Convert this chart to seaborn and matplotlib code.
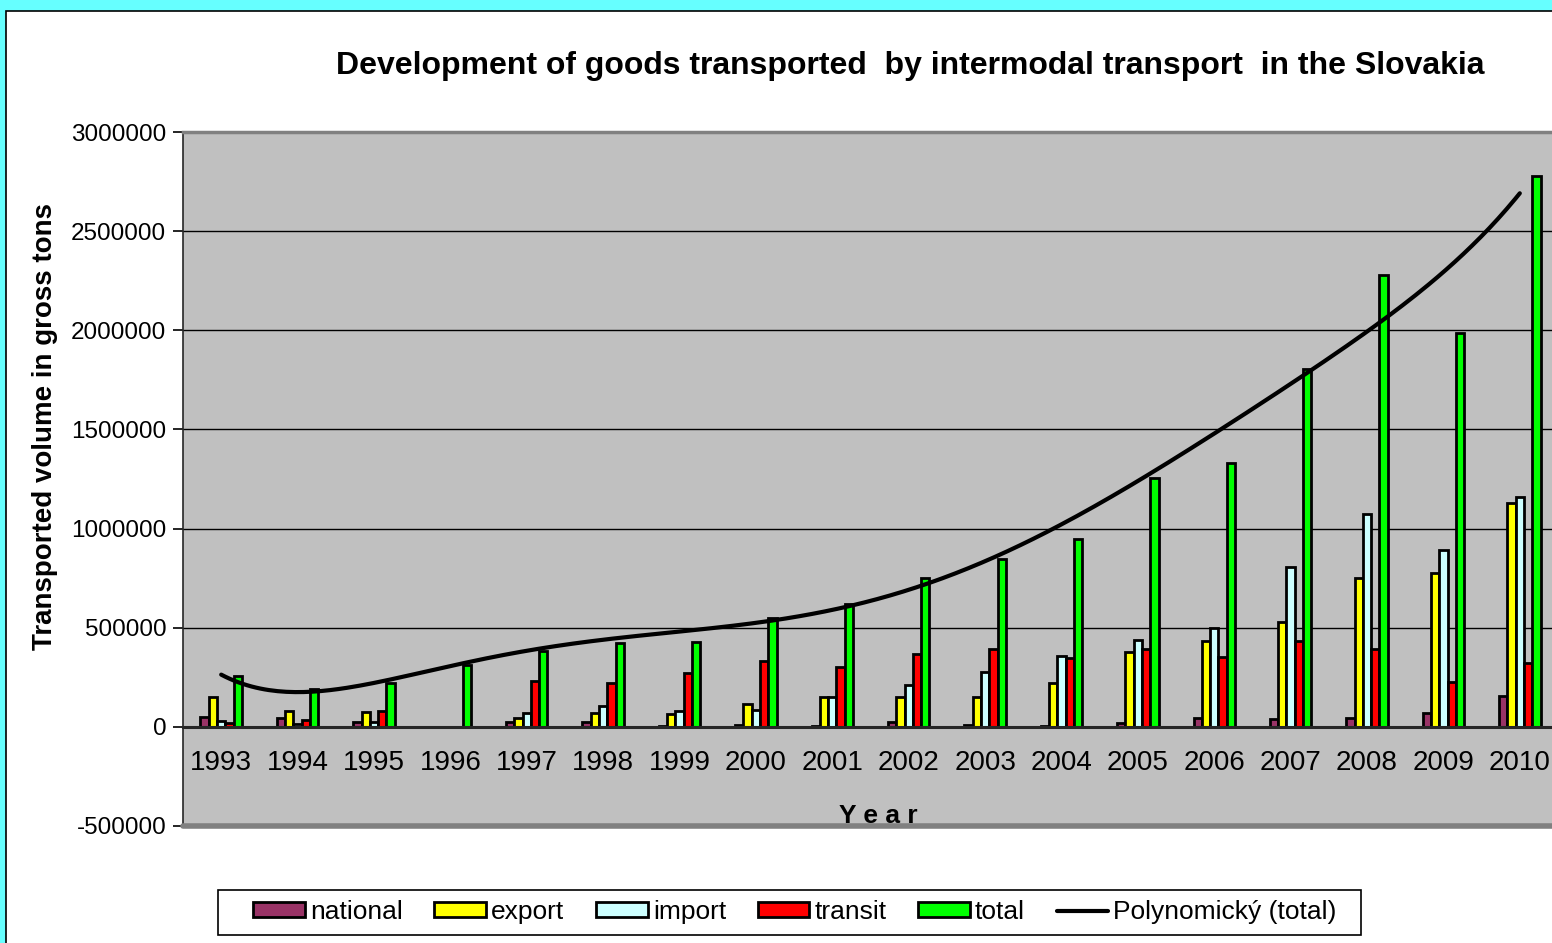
import numpy as np
import pandas as pd
import matplotlib
matplotlib.use('Agg')
import matplotlib.pyplot as plt
from matplotlib.patches import Rectangle
from matplotlib.ticker import MultipleLocator
import seaborn as sns

# values (gross tons)
years = ['1993', '1994', '1995', '1996', '1997', '1998', '1999', '2000', '2001',
         '2002', '2003', '2004', '2005', '2006', '2007', '2008', '2009', '2010']
national = [50000, 45000, 22000, np.nan, 22000, 25000, 2000, 8000, 4000,
            27000, 10000, 5000, 19000, 47000, 42000, 47000, 69000, 158000]
export = [150000, 80000, 75000, np.nan, 45000, 70000, 65000, 115000, 153000,
          153000, 153000, 219000, 380000, 434000, 527000, 749000, 778000, 1128000]
imports = [30000, 15000, 22000, np.nan, 68000, 105000, 80000, 85000, 153000,
           212000, 278000, 355000, 440000, 497000, 805000, 1071000, 894000, 1159000]
transit = [20000, 33000, 80000, np.nan, 233000, 223000, 270000, 334000, 304000,
           368000, 392000, 347000, 392000, 350000, 431000, 392000, 228000, 321000]
total = [255000, 190000, 220000, 313000, 385000, 425000, 430000, 548000, 618000,
         750000, 847000, 945000, 1254000, 1332000, 1807000, 2277000, 1985000, 2779000]
# two empty series of the original workbook, drawn as flat lines at zero
empty = [0] * len(years)

series = ['empty_a', 'national', 'export', 'import', 'transit', 'total', 'empty_b']
colors = ['#808080', '#993366', '#FFFF00', '#CCFFFF', '#FF0000', '#00FF00', '#808080']

df = pd.DataFrame({'year': years, 'empty_a': empty, 'national': national, 'export': export,
                   'import': imports, 'transit': transit, 'total': total, 'empty_b': empty})
df = df.melt(id_vars='year', var_name='series', value_name='tons')

sns.set_style('white')
plt.rcParams['font.family'] = ['Liberation Sans', 'DejaVu Sans']
plt.rcParams['axes.unicode_minus'] = False
for key in ['text.color', 'axes.labelcolor', 'xtick.color', 'ytick.color']:
    plt.rcParams[key] = 'black'

fig = plt.figure(figsize=(15.52, 9.43), dpi=100)
fig.set_facecolor('#66FFFF')
fig.add_artist(Rectangle((6 / 1552, -0.1), 1.2, 932 / 943 + 0.1, transform=fig.transFigure,
                         facecolor='white', edgecolor='black', linewidth=1.2, zorder=-5))

ax = fig.add_axes([183 / 1552, 117 / 943, 1375 / 1552, 694 / 943])
ax.set_facecolor('#C0C0C0')

sns.barplot(data=df, x='year', y='tons', hue='series', hue_order=series, palette=colors,
            saturation=1, width=0.76, edgecolor='black', linewidth=2, errorbar=None, ax=ax)

# polynomial trend (6th order, as in Excel) of the total series
xi = np.arange(len(years))
coef = np.polyfit(xi + 1, total, 6)
xs = np.linspace(0, len(years) - 1, 300)
ax.plot(xs, np.polyval(coef, xs + 1), color='black', linewidth=3, zorder=10,
        label='Polynomický (total)')

ax.set_xlim(-0.5, len(years) - 0.5)
ax.set_ylim(-500000, 3000000)
ax.yaxis.set_major_locator(MultipleLocator(500000))
ax.ticklabel_format(axis='y', style='plain', useOffset=False)
ax.yaxis.grid(True, color='black', linewidth=1)
ax.set_axisbelow(True)

# x axis sits on the zero line, ticks between the year groups
ax.spines['bottom'].set_position(('data', 0))
ax.spines['bottom'].set_linewidth(2.2)
ax.spines['left'].set_linewidth(1.2)
ax.spines['right'].set_visible(False)
ax.spines['top'].set_color('#808080')
ax.spines['top'].set_linewidth(2.5)
ax.axhline(-500000, color='#808080', linewidth=4, clip_on=False, zorder=5)
ax.set_xticks(xi + 0.5, minor=True)
ax.tick_params(axis='x', which='major', length=0, pad=17, labelsize=20)
ax.tick_params(axis='x', which='minor', length=8, width=1.2, direction='out', color='black')
ax.tick_params(axis='y', length=7, width=1.2, direction='out', color='black', labelsize=17.5, pad=5)
ax.yaxis.set_ticks_position('left')

ax.set_xlabel('')
ax.set_ylabel('Transported volume in gross tons', fontsize=20, fontweight='bold')
ax.yaxis.set_label_coords(-0.091, 0.576)
ax.text(0.506, 0.0144, 'Y e a r', transform=ax.transAxes, ha='center', va='center',
        fontsize=19, fontweight='bold')

fig.text(910 / 1552, 1 - 66 / 943,
         'Development of goods transported  by intermodal transport  in the Slovakia',
         ha='center', va='center', fontsize=23, fontweight='bold')

handles, labels = ax.get_legend_handles_labels()
keep = [i for i, l in enumerate(labels) if not l.startswith('empty')]
ax.legend_.remove()
leg = fig.legend([handles[i] for i in keep], [labels[i] for i in keep],
                 loc='center', bbox_to_anchor=(795 / 1552, 1 - 912 / 943),
                 ncol=6, fontsize=19, frameon=False,
                 handlelength=1.95, handleheight=0.5, handletextpad=0.2, columnspacing=1.2)
fig.add_artist(Rectangle((218 / 1552, 1 - 935 / 943), (1361 - 218) / 1552, 45 / 943,
                         transform=fig.transFigure, facecolor='none', edgecolor='black',
                         linewidth=1.2))

fig.savefig('out.png', dpi=100)
